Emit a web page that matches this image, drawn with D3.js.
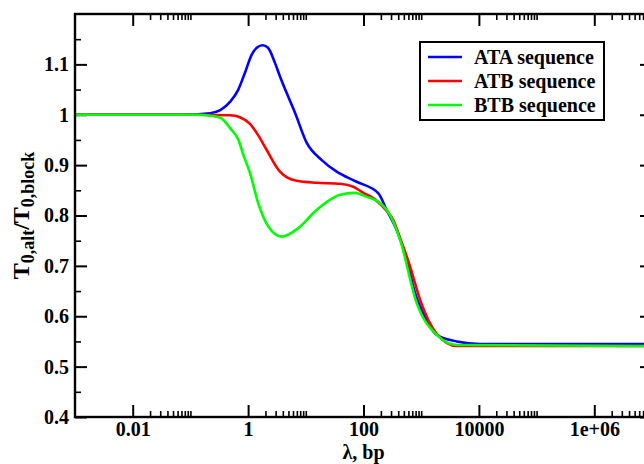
<!DOCTYPE html>
<html>
<head>
<meta charset="utf-8">
<script src="https://cdn.jsdelivr.net/npm/d3@7"></script>
<style>
  html, body { margin: 0; padding: 0; background: #fff; }
  svg { display: block; }
</style>
</head>
<body>
<div id="chart"></div>
<script>
// values (lambda in bp, ratio T0,alt / T0,block)
const ataLambda = [0.001, 0.066, 0.22, 0.33, 0.49, 0.67, 0.88, 1.15, 1.49, 1.79, 2.21, 2.92, 3.57, 4.67, 6.5, 10.4, 18.9, 34.3, 76, 181, 252, 396, 561, 782, 1074, 1858, 4121, 10450, 1e7];
const ataValues = [1.0, 1.0, 1.003, 1.009, 1.026, 1.049, 1.083, 1.119, 1.135, 1.138, 1.133, 1.103, 1.076, 1.043, 1.004, 0.944, 0.910, 0.887, 0.867, 0.844, 0.811, 0.765, 0.712, 0.646, 0.607, 0.563, 0.550, 0.545, 0.545];

const atbLambda = [0.001, 0.1, 0.49, 0.72, 1.08, 1.5, 2.1, 3.57, 4.8, 6.95, 15.5, 39.2, 66.5, 99.3, 158, 252, 328, 401, 640, 953, 1858, 4121, 1e7];
const atbValues = [1.0, 1.0, 0.999, 0.995, 0.982, 0.959, 0.930, 0.887, 0.875, 0.869, 0.865, 0.863, 0.857, 0.845, 0.832, 0.809, 0.791, 0.765, 0.699, 0.633, 0.565, 0.541, 0.541];

const btbLambda = [0.001, 0.147, 0.22, 0.33, 0.49, 0.68, 0.83, 1.08, 1.5, 2.24, 3.82, 7.41, 14.4, 26.2, 39.2, 71.3, 113.5, 178, 288, 430, 836, 1858, 4121, 1e7];
const btbValues = [1.0, 1.0, 0.998, 0.994, 0.973, 0.950, 0.920, 0.884, 0.824, 0.778, 0.758, 0.775, 0.808, 0.831, 0.841, 0.845, 0.837, 0.828, 0.801, 0.752, 0.626, 0.563, 0.543, 0.541];

const seriesNames = ["ATA sequence", "ATB sequence", "BTB sequence"];
const seriesColors = ["#0000ff", "#ff0000", "#00ff00"];

const xMajor = [1e-2, 1, 1e2, 1e4, 1e6];
const xMajorLabels = ["0.01", "1", "100", "10000", "1e+06"];
const yMajor = [0.4, 0.5, 0.6, 0.7, 0.8, 0.9, 1.0, 1.1];
const yMajorLabels = ["0.4", "0.5", "0.6", "0.7", "0.8", "0.9", "1", "1.1"];
const yMinor = [0.45, 0.55, 0.65, 0.75, 0.85, 0.95, 1.05, 1.15];

const FONT = "'Liberation Serif', 'Times New Roman', Times, serif";

const width = 644, height = 464;
// plot frame runs past the right edge of the window, as in the original
const margin = { top: 14, left: 75 };
const plotW = 577, plotH = 403;

const svg = d3.select("#chart").append("svg")
  .attr("width", width)
  .attr("height", height)
  .attr("font-family", FONT)
  .attr("font-weight", "bold");

const g = svg.append("g").attr("transform", `translate(${margin.left},${margin.top})`);

const x = d3.scaleLog().domain([1e-3, 1e7]).range([0, plotW]);
const y = d3.scaleLinear().domain([0.4, 1.2]).range([plotH, 0]);

// minor x ticks: 2..10 times each major
const xMinor = [];
[1e-4].concat(xMajor).forEach(m => {
  for (let k = 2; k <= 10; k++) {
    const v = m * k;
    if (v > 1e-3 && v < 1e7) xMinor.push(v);
  }
});

const tickStyle = (sel, w) => {
  sel.attr("font-family", FONT).attr("font-size", 20);
  sel.select(".domain").remove();
  sel.selectAll("line").attr("stroke", "#000").attr("stroke-width", w);
  sel.selectAll("text").attr("fill", "#000");
};

// bottom
g.append("g").attr("transform", `translate(0,${plotH})`)
  .call(d3.axisBottom(x).tickValues(xMajor).tickSize(-12).tickPadding(5)
    .tickFormat((d, i) => xMajorLabels[i]))
  .call(s => tickStyle(s, 2));
g.append("g").attr("transform", `translate(0,${plotH})`)
  .call(d3.axisBottom(x).tickValues(xMinor).tickSize(-6).tickFormat(""))
  .call(s => tickStyle(s, 1.6));
// top
g.append("g")
  .call(d3.axisTop(x).tickValues(xMajor).tickSize(-12).tickFormat(""))
  .call(s => tickStyle(s, 2));
g.append("g")
  .call(d3.axisTop(x).tickValues(xMinor).tickSize(-6).tickFormat(""))
  .call(s => tickStyle(s, 1.6));
// left
g.append("g")
  .call(d3.axisLeft(y).tickValues(yMajor).tickSize(-12).tickPadding(6)
    .tickFormat((d, i) => yMajorLabels[i]))
  .call(s => tickStyle(s, 2));
g.append("g")
  .call(d3.axisLeft(y).tickValues(yMinor).tickSize(-6).tickFormat(""))
  .call(s => tickStyle(s, 1.6));
// right
g.append("g").attr("transform", `translate(${plotW},0)`)
  .call(d3.axisRight(y).tickValues(yMajor).tickSize(-12).tickFormat(""))
  .call(s => tickStyle(s, 2));
g.append("g").attr("transform", `translate(${plotW},0)`)
  .call(d3.axisRight(y).tickValues(yMinor).tickSize(-6).tickFormat(""))
  .call(s => tickStyle(s, 1.6));

// curves
const line = d3.line()
  .x(d => x(d[0]))
  .y(d => y(d[1]))
  .curve(d3.curveMonotoneX);

const series = [
  d3.zip(ataLambda, ataValues),
  d3.zip(atbLambda, atbValues),
  d3.zip(btbLambda, btbValues)
];

series.forEach((pts, i) => {
  g.append("path")
    .datum(pts)
    .attr("fill", "none")
    .attr("stroke", seriesColors[i])
    .attr("stroke-width", 2.6)
    .attr("stroke-linejoin", "round")
    .attr("d", line);
});

// frame
g.append("rect")
  .attr("width", plotW).attr("height", plotH)
  .attr("fill", "none").attr("stroke", "#000").attr("stroke-width", 2.4);

// legend
const legend = svg.append("g").attr("transform", "translate(420,42)");
legend.append("rect")
  .attr("width", 184).attr("height", 78)
  .attr("fill", "#fff").attr("stroke", "#000").attr("stroke-width", 2);
seriesNames.forEach((name, i) => {
  const ly = 15 + i * 24;
  legend.append("line")
    .attr("x1", 8).attr("x2", 42).attr("y1", ly).attr("y2", ly)
    .attr("stroke", seriesColors[i]).attr("stroke-width", 2.6);
  legend.append("text")
    .attr("x", 54).attr("y", ly + 7)
    .attr("font-size", 20)
    .text(name);
});

// axis titles
svg.append("text")
  .attr("x", margin.left + plotW / 2).attr("y", 459)
  .attr("text-anchor", "middle")
  .attr("font-size", 20)
  .text("λ, bp");

const yTitle = svg.append("text")
  .attr("transform", `translate(29,${margin.top + plotH / 2}) rotate(-90)`)
  .attr("text-anchor", "middle")
  .attr("font-size", 24);
yTitle.append("tspan").text("T");
yTitle.append("tspan").attr("font-size", 18).attr("dy", 5).text("0,alt");
yTitle.append("tspan").attr("dy", -5).text("/T");
yTitle.append("tspan").attr("font-size", 18).attr("dy", 5).text("0,block");
</script>
</body>
</html>
